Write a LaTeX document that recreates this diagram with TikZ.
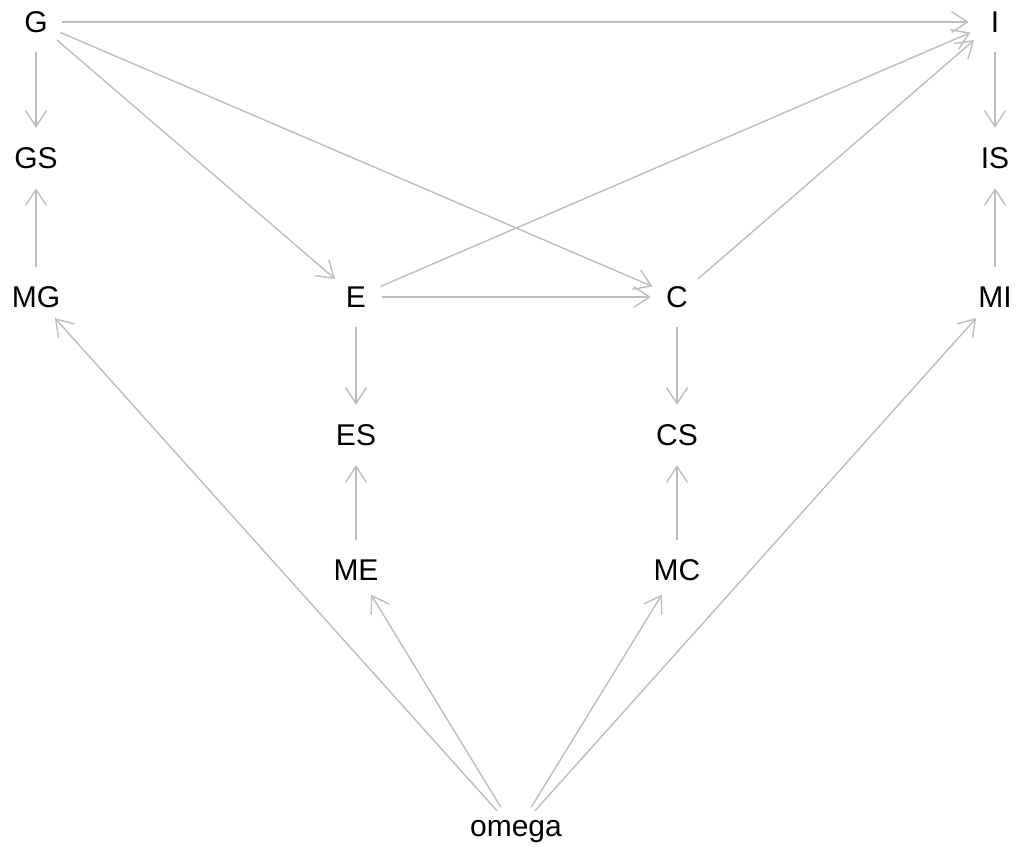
\documentclass[tikz,border=0pt]{standalone}
\usepackage{fontspec}
\setmainfont{Liberation Sans}
\usetikzlibrary{arrows.meta,shapes.geometric}
\definecolor{edgegray}{HTML}{BEBEBE}
\begin{document}
\begin{tikzpicture}[x=1pt,y=-1pt,
  vert/.style={ellipse,minimum width=52pt,minimum height=60pt,inner sep=0pt},
  lbl/.style={font=\fontsize{30}{33}\selectfont,text=black},
  edge/.style={draw=edgegray,line width=1.4pt,-{Straight Barb[length=16pt,width=21pt,line width=1.4pt]}}]
\useasboundingbox (0,0) rectangle (1018,851);
% vertices (positions in layout units)
\node[vert] (G)  at (36,22) {};
\node[vert] (I)  at (995,22) {};
\node[vert] (GS) at (36,158) {};
\node[vert] (IS) at (995,158) {};
\node[vert] (MG) at (36,297) {};
\node[vert] (E)  at (356,297) {};
\node[vert] (C)  at (677,297) {};
\node[vert] (MI) at (995,297) {};
\node[vert] (ES) at (356,435) {};
\node[vert] (CS) at (677,435) {};
\node[vert] (ME) at (356,570) {};
\node[vert] (MC) at (677,570) {};
\node[vert] (omega) at (516,832) {};
% labels
\foreach \n in {G,I,GS,IS,MG,E,C,MI,ES,CS,ME,MC,omega}
  \node[lbl] at (\n) {\n};
% edges
\draw[edge] (G) -- (I);
\draw[edge] (G) -- (GS);
\draw[edge] (G) -- (E);
\draw[edge] (G) -- (C);
\draw[edge] (E) -- (I);
\draw[edge] (C) -- (I);
\draw[edge] (I) -- (IS);
\draw[edge] (MG) -- (GS);
\draw[edge] (MI) -- (IS);
\draw[edge] (E) -- (C);
\draw[edge] (E) -- (ES);
\draw[edge] (C) -- (CS);
\draw[edge] (ME) -- (ES);
\draw[edge] (MC) -- (CS);
\draw[edge] (omega) -- (MG);
\draw[edge] (omega) -- (ME);
\draw[edge] (omega) -- (MC);
\draw[edge] (omega) -- (MI);
\end{tikzpicture}
\end{document}
